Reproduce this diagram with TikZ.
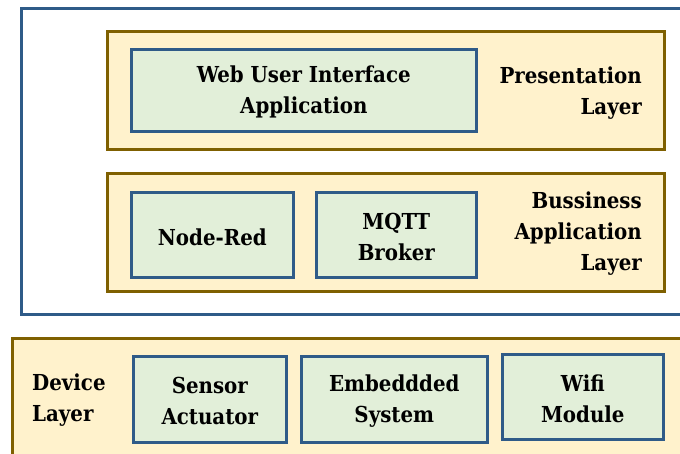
\documentclass[tikz,border=0pt]{standalone}
\usepackage{fontspec}
\newfontfamily\tnrb{DejaVu Serif Condensed}
\usetikzlibrary{positioning}
\definecolor{bluebd}{HTML}{2F5B88}
\definecolor{goldbd}{HTML}{7F6000}
\definecolor{cream}{HTML}{FFF2CC}
\definecolor{greenf}{HTML}{E2EFD9}
\tikzset{
  px/.style={x=1pt,y=-1pt},
  outerbox/.style={draw=bluebd, line width=2.6pt, fill=white, rectangle, anchor=north west, inner sep=0pt},
  layerbox/.style={draw=goldbd, line width=2.6pt, fill=cream, rectangle, anchor=north west, inner sep=0pt},
  compbox/.style={draw=bluebd, line width=2.6pt, fill=greenf, rectangle, anchor=north west, inner sep=0pt},
  lbl/.style={font=\tnrb\bfseries\fontsize{22}{31}\selectfont, inner sep=0pt, yshift=-2pt},
}
\begin{document}
\begin{tikzpicture}[px]
\useasboundingbox (0,0) rectangle (680,453);
% outer application frame
\node[outerbox, minimum width=700pt, minimum height=306pt] (outer) at (20,7) {};
% presentation layer
\node[layerbox, minimum width=557pt, minimum height=118pt] (pres) at (106,30) {};
\node[compbox, minimum width=345pt, minimum height=82pt] (web) at (130,48) {};
\node[lbl, align=center] (webt) at (web.center) {Web User Interface\\Application};
\node[lbl, align=right, anchor=east] (prest) at (642,91) {Presentation\\Layer};
% business layer
\node[layerbox, minimum width=557pt, minimum height=118pt] (bus) at (106,172) {};
\node[compbox, minimum width=162pt, minimum height=85pt] (node) at (130,191) {};
\node[lbl] (nodet) at (node.center) {Node-Red};
\node[compbox, minimum width=160pt, minimum height=85pt] (mqtt) at (315,191) {};
\node[lbl, align=center] (mqttt) at (mqtt.center) {MQTT\\Broker};
\node[lbl, align=right, anchor=east] (bust) at (642,232) {Bussiness\\Application\\Layer};
% device layer
\node[layerbox, minimum width=700pt, minimum height=140pt] (dev) at (11,337) {};
\node[lbl, align=left, anchor=west] (devt) at (32,398) {Device\\Layer};
\node[compbox, minimum width=153pt, minimum height=86pt] (sens) at (132,355) {};
\node[lbl, align=center] (senst) at (sens.center) {Sensor\\Actuator};
\node[compbox, minimum width=186pt, minimum height=86pt] (emb) at (300,355) {};
\node[lbl, align=center] (embt) at (emb.center) {Embeddded\\System};
\node[compbox, minimum width=161pt, minimum height=85pt] (wifi) at (501,353) {};
\node[lbl, align=center] (wifit) at (wifi.center) {Wifi\\Module};
\end{tikzpicture}
\end{document}
